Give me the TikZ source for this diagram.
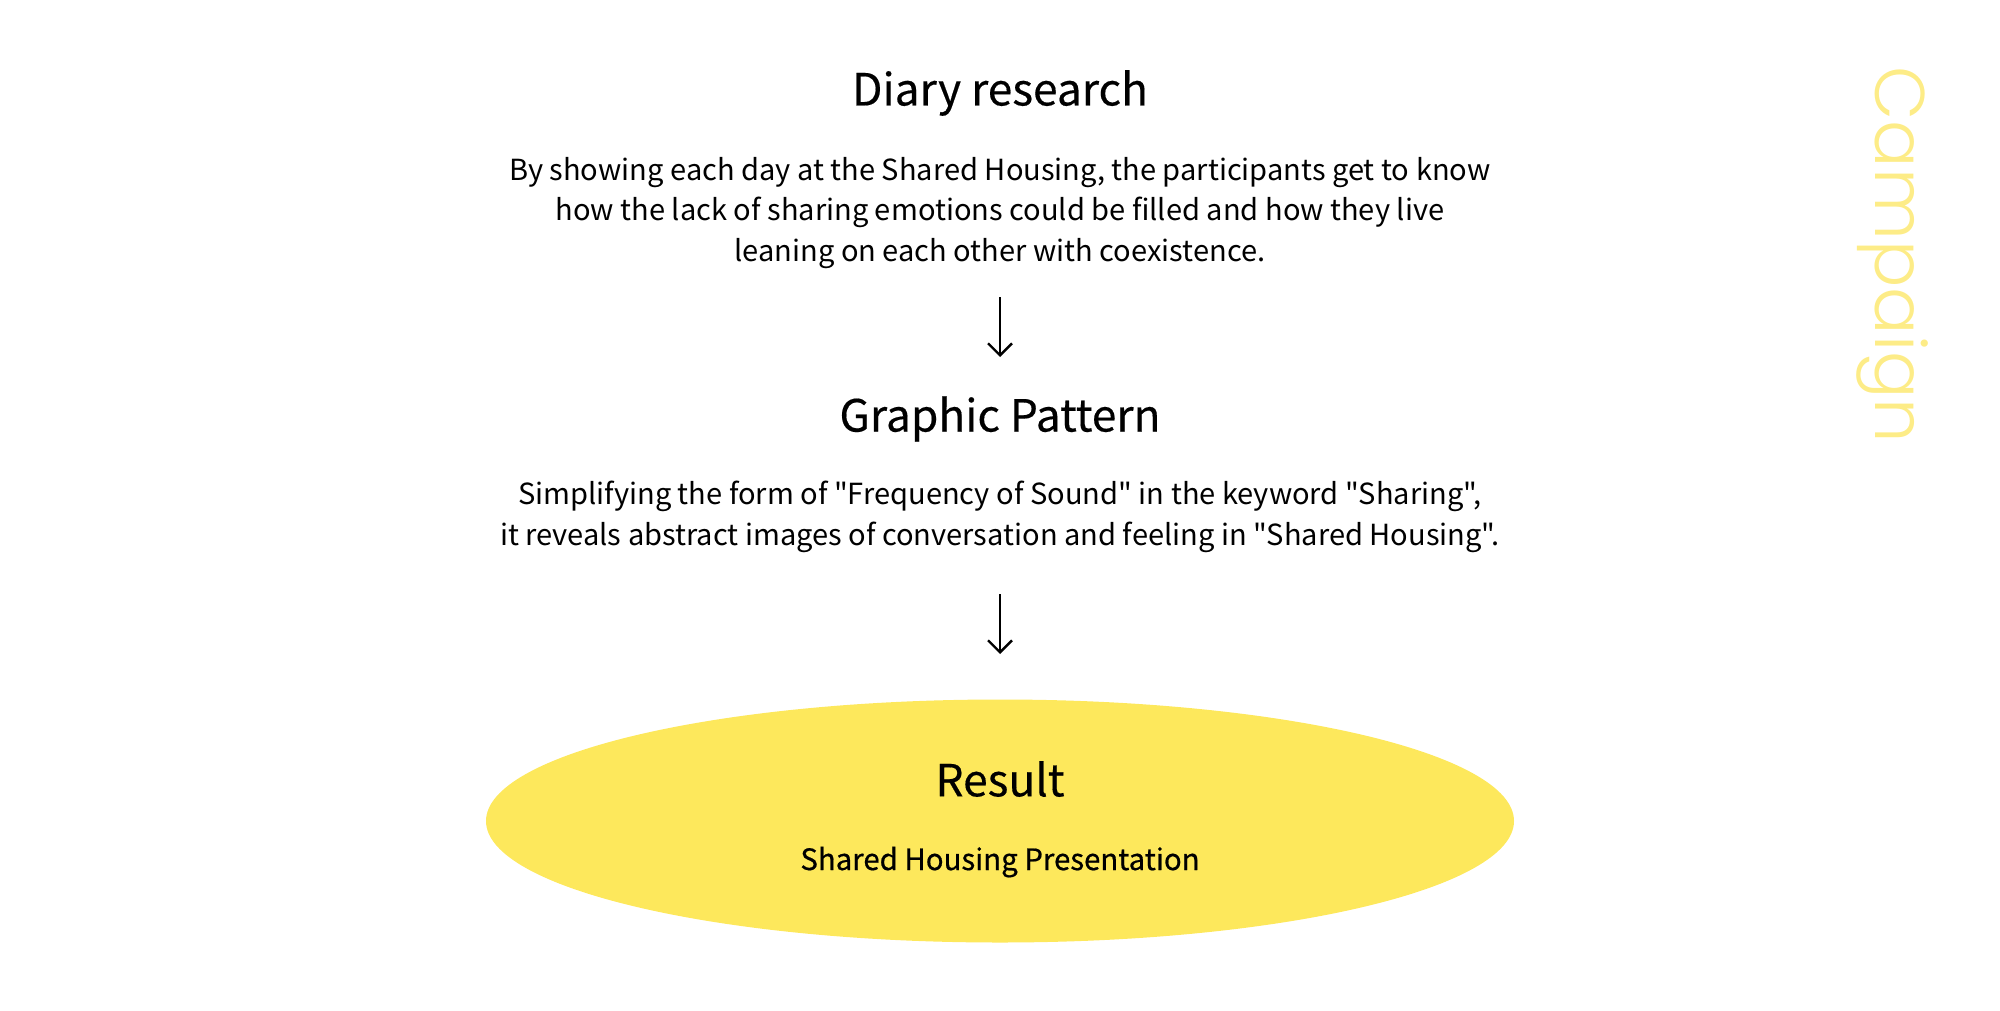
\documentclass[tikz,border=0pt]{standalone}
\usepackage{fontspec}
\setmainfont{Noto Sans CJK KR}[Ligatures=TeXOff]
\newfontfamily\campfont{Poppins Light}
\newfontfamily\medfont[FakeBold=0.6, Ligatures=TeXOff]{Noto Sans CJK KR}
\newfontfamily\headfont[FakeBold=0.35, Ligatures=TeXOff]{Noto Sans CJK KR}
\usetikzlibrary{arrows.meta, positioning, shapes.geometric}
\definecolor{resultyellow}{RGB}{253,232,92}
\definecolor{campyellow}{RGB}{253,236,135}

\begin{document}
\begin{tikzpicture}[
    heading/.style={inner sep=0pt, font=\headfont\fontsize{12.6}{15}\selectfont},
    bodytext/.style={inner sep=0pt, align=center, font=\fontsize{8.27}{11.6}\selectfont},
    flow/.style={line width=0.7pt, -{Straight Barb[length=1.2mm, width=2.4mm]}}
]
    \useasboundingbox (0,0) rectangle (20,-10.1);

    % Diary research
    \node[heading] (diary) at (10,-0.93) {Diary research};
    \node[bodytext] (diarytext) at (10,-2.13) {By showing each day at the Shared Housing, the participants get to know\\
        how the lack of sharing emotions could be filled and how they live\\
        leaning on each other with coexistence.};

    % Graphic pattern
    \node[heading] (graphic) at (10,-4.19) {Graphic Pattern};
    \node[bodytext] (graphictext) at (10,-5.17) {Simplifying the form of "Frequency of Sound" in the keyword "Sharing",\\
        it reveals abstract images of conversation and feeling in "Shared Housing".};

    % Result
    \node[ellipse, fill=resultyellow, minimum width=10.28cm, minimum height=2.43cm] (result) at (10,-8.21) {};
    \node[heading] (resulttitle) at (10,-7.79) {Result};
    \node[bodytext, font=\medfont\fontsize{8.36}{11.6}\selectfont] (resulttext) at (10,-8.62) {Shared Housing Presentation};

    % Arrows
    \coordinate (a1) at (10,-2.97);
    \coordinate (b1) at (10,-3.57);
    \coordinate (a2) at (10,-5.94);
    \coordinate (b2) at (10,-6.54);
    \draw[flow] (a1) -- (b1);
    \draw[flow] (a2) -- (b2);

    % Side label
    \node[rotate=-90, inner sep=0pt, text=campyellow, font=\campfont\fontsize{20}{24}\selectfont] (campaign) at (18.92,-2.55) {Campaign};
\end{tikzpicture}
\end{document}
